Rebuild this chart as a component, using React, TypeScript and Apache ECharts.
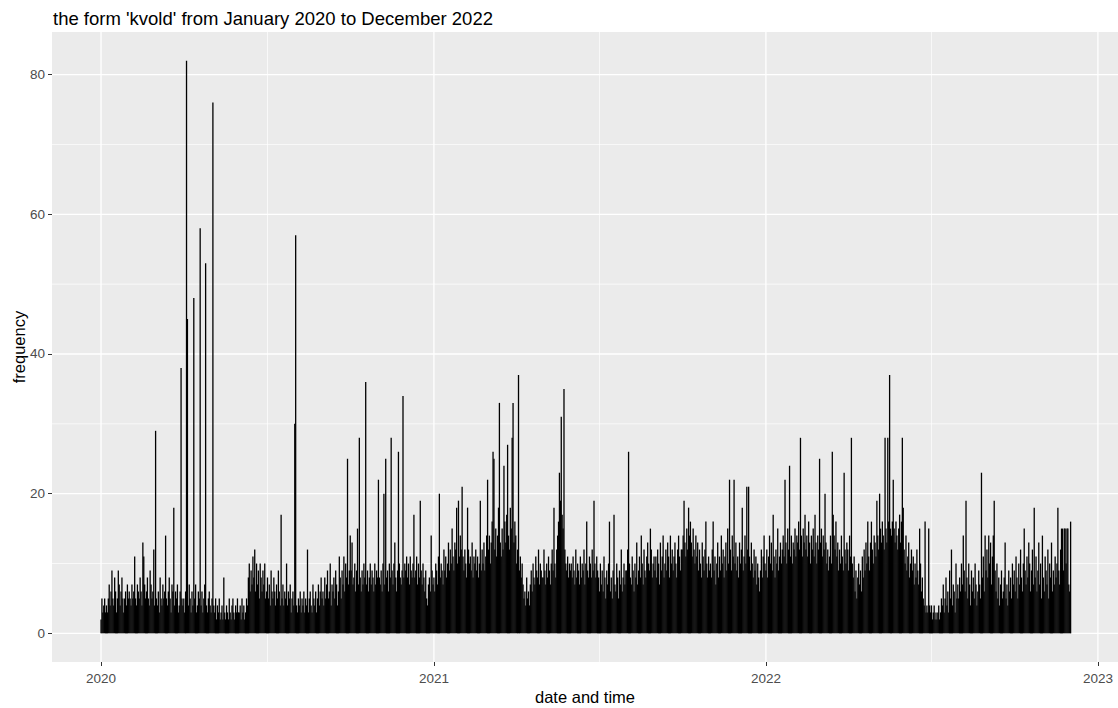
import React, { useEffect, useRef } from "react";
import * as echarts from "echarts";

// Daily counts (2020-01-01 .. 2022-12-02)
const counts2020 = [
  // Jan
  2,5,3,4,5,3,4,3,5,7,4,6,9,5,4,8,6,3,5,9,7,4,6,8,5,3,5,6,4,7,5,
  // Feb
  6,5,4,7,5,6,11,5,4,7,6,5,8,6,4,13,11,7,5,6,8,5,4,9,7,5,6,12,4,
  // Mar
  29,5,4,6,3,8,5,4,7,5,6,14,5,4,6,8,5,3,7,6,18,4,6,5,7,3,4,6,38,5,4,
  // Apr
  5,3,6,82,45,4,7,5,3,6,4,48,5,7,3,4,6,5,58,4,6,3,5,7,53,4,3,5,6,4,
  // May
  3,5,76,4,3,5,2,4,3,5,2,3,4,2,8,3,2,4,3,2,5,3,2,4,5,3,2,4,3,5,3,
  // Jun
  3,4,2,5,3,4,2,3,5,4,8,10,6,9,7,11,8,12,6,10,7,9,5,10,8,6,9,7,10,5,
  // Jul
  6,8,5,7,4,9,6,5,8,6,4,7,5,9,6,4,17,5,7,4,6,5,10,4,6,5,7,3,5,6,4,
  // Aug
  30,57,4,3,5,4,6,3,5,4,6,3,5,4,12,3,5,6,4,3,7,5,4,6,3,5,7,4,6,8,5,
  // Sep
  6,4,8,5,7,9,5,6,10,4,7,6,8,5,9,7,4,6,11,8,5,9,7,11,6,10,8,25,7,9,
  // Oct
  14,9,13,7,8,10,6,9,15,7,28,8,6,9,7,10,8,36,7,9,6,8,10,7,9,8,6,10,7,9,8,
  // Nov
  22,8,7,9,6,10,20,7,25,8,9,6,10,8,28,9,7,10,13,8,6,9,26,10,8,7,9,34,8,10,
  // Dec
  9,11,8,10,7,11,9,8,10,17,8,9,11,7,10,8,19,9,7,10,8,6,9,5,4,7,8,6,14,9,7,
];

const counts2021 = [
  // Jan
  8,6,10,9,7,11,20,8,10,9,7,12,9,11,8,10,13,9,12,10,15,11,9,13,12,18,10,19,11,14,12,
  // Feb
  21,11,9,12,10,8,18,12,10,11,9,13,8,11,10,12,9,11,8,10,19,9,12,10,13,9,11,14,
  // Mar
  22,12,14,10,13,16,26,25,12,15,11,14,18,33,13,11,15,12,24,16,13,17,27,14,12,18,15,28,33,13,16,
  // Apr
  14,10,12,37,9,11,8,10,7,5,6,4,8,5,6,4,7,9,6,10,8,7,11,9,8,12,7,10,9,8,
  // May
  8,12,9,7,10,8,11,9,7,10,12,9,18,10,8,12,14,16,23,19,31,17,15,35,12,10,9,11,8,10,9,
  // Jun
  10,8,11,9,7,12,8,10,9,7,11,8,10,9,12,7,10,16,9,8,11,10,8,12,9,19,10,8,11,9,
  // Jul
  8,6,10,7,9,6,11,8,5,9,7,10,16,6,8,5,9,17,7,6,10,8,5,9,7,12,6,8,10,7,9,
  // Aug
  9,12,26,10,8,7,11,9,6,10,8,13,7,9,11,8,14,10,7,12,9,8,11,13,10,9,15,12,8,10,11,
  // Sep
  9,11,8,12,10,7,13,9,11,14,8,10,12,9,13,11,8,14,10,12,9,11,13,10,8,12,14,11,9,12,
  // Oct
  12,14,19,13,11,15,12,18,14,16,13,11,15,12,10,14,11,13,9,12,10,8,13,11,9,12,16,10,8,11,9,
  // Nov
  10,8,12,16,9,11,7,10,13,8,11,9,14,10,12,8,11,13,9,15,10,22,12,9,14,11,22,10,13,9,
  // Dec
  11,8,13,10,12,18,9,11,14,10,21,12,21,11,9,13,10,8,12,9,11,7,10,8,6,9,12,8,11,14,10,
];

const counts2022 = [
  // Jan
  9,12,8,11,14,10,13,9,17,11,8,12,10,15,9,11,13,10,12,14,11,22,13,10,15,12,24,11,14,10,13,
  // Feb
  12,15,11,14,13,16,12,28,14,11,15,13,17,12,14,11,16,13,10,14,12,15,11,17,13,10,14,12,
  // Mar
  25,13,15,11,14,12,20,13,10,12,9,11,14,10,26,17,14,12,16,11,13,9,12,10,14,11,9,23,12,10,13,
  // Apr
  12,9,14,11,28,10,8,11,6,9,5,8,10,7,9,6,11,8,12,9,13,10,16,11,9,13,16,12,10,14,
  // May
  13,11,19,14,12,20,15,13,16,14,12,28,15,13,28,16,37,15,14,16,22,15,13,16,14,12,15,17,13,16,28,
  // Jun
  18,12,10,14,9,11,13,8,10,12,9,11,7,10,8,12,9,7,15,10,6,8,5,4,16,3,4,3,15,4,
  // Jul
  3,4,2,3,4,2,3,2,3,4,2,3,5,4,7,3,5,8,4,6,3,9,5,12,4,7,6,3,10,5,7,
  // Aug
  5,8,6,10,7,14,9,6,19,8,5,10,7,4,9,6,8,5,10,7,4,6,9,7,5,23,8,11,6,14,9,
  // Sep
  12,8,14,10,13,7,11,14,19,9,6,10,5,8,4,7,9,5,6,8,13,5,7,4,9,6,8,5,10,7,
  // Oct
  9,6,11,8,5,10,7,12,8,6,10,15,9,7,11,8,13,10,6,9,12,7,18,8,11,6,9,13,7,10,5,
  // Nov
  14,8,6,11,9,7,12,5,10,8,13,6,9,7,11,8,10,18,9,7,12,15,15,9,15,15,10,15,15,7,
  // Dec
  6,16,
];

const yMajorTicks = [0, 20, 40, 60, 80];
const yMinorTicks = [10, 30, 50, 70];
const xMajorYears = [2020, 2021, 2022, 2023];
const xMinorDates: [number, number, number][] = [
  [2020, 6, 2],
  [2021, 6, 2],
  [2022, 6, 2],
];

const FONT = "'Liberation Sans', Arial, Helvetica, sans-serif";

export default function App() {
  const ref = useRef<HTMLDivElement>(null);

  useEffect(() => {
    if (!ref.current) return;
    const chart = echarts.init(ref.current, null, { renderer: "svg" });

    const DAY = 86400000;
    const t0 = new Date(2020, 0, 1).getTime();
    const counts = [...counts2020, ...counts2021, ...counts2022];
    const barData = counts.map((v, i) => [new Date(2020, 0, 1 + i).getTime(), v]);

    const xMin = t0 - 53.9 * DAY;
    const xMax = t0 + 1118.1 * DAY;
    const yMin = -4.1;
    const yMax = 86.1;

    const majorX = xMajorYears.map((y) => new Date(y, 0, 1).getTime());
    const minorX = xMinorDates.map(([y, m, d]) => new Date(y, m, d).getTime());

    const gridLine = (data: number[][], width: number) => ({
      type: "line",
      data,
      symbol: "none",
      silent: true,
      z: 1,
      lineStyle: { color: "#ffffff", width },
      animation: false,
    });

    const gridSeries: any[] = [];
    yMinorTicks.forEach((v) => gridSeries.push(gridLine([[xMin, v], [xMax, v]], 0.7)));
    minorX.forEach((t) => gridSeries.push(gridLine([[t, yMin], [t, yMax]], 0.7)));
    yMajorTicks.forEach((v) => gridSeries.push(gridLine([[xMin, v], [xMax, v]], 1.3)));
    majorX.forEach((t) => gridSeries.push(gridLine([[t, yMin], [t, yMax]], 1.3)));

    chart.setOption({
      animation: false,
      backgroundColor: "#ffffff",
      textStyle: { fontFamily: FONT },
      title: {
        text: "the form 'kvold' from January 2020 to December 2022",
        left: 48,
        top: 4,
        textStyle: {
          fontFamily: FONT,
          fontSize: 18.5,
          fontWeight: "normal",
          color: "#000000",
        },
      },
      grid: {
        left: 52,
        right: 0,
        top: 32,
        bottom: 46,
        containLabel: false,
        outerBoundsMode: "none",
        show: true,
        backgroundColor: "#EBEBEB",
        borderWidth: 0,
      },
      xAxis: {
        type: "value",
        min: xMin,
        max: xMax,
        scale: true,
        name: "date and time",
        nameLocation: "middle",
        nameGap: 26,
        nameMoveOverlap: false,
        nameTextStyle: { fontFamily: FONT, fontSize: 16.5, color: "#000000" },
        axisLine: { show: false, onZero: false },
        splitLine: { show: false },
        axisTick: {
          show: true,
          length: 4,
          lineStyle: { color: "#333333", width: 1 },
          customValues: majorX,
        },
        axisLabel: {
          customValues: majorX,
          formatter: (v: number) => String(new Date(v).getFullYear()),
          color: "#4D4D4D",
          fontSize: 13.5,
          fontFamily: FONT,
          margin: 9,
        },
      },
      yAxis: {
        type: "value",
        min: yMin,
        max: yMax,
        name: "frequency",
        nameLocation: "middle",
        nameGap: 25,
        nameMoveOverlap: false,
        nameTextStyle: { fontFamily: FONT, fontSize: 16.5, color: "#000000" },
        axisLine: { show: false, onZero: false },
        splitLine: { show: false },
        axisTick: {
          show: true,
          length: 4,
          lineStyle: { color: "#333333", width: 1 },
          customValues: yMajorTicks,
        },
        axisLabel: {
          customValues: yMajorTicks,
          color: "#4D4D4D",
          fontSize: 13.5,
          fontFamily: FONT,
          margin: 7,
        },
      },
      series: [
        ...gridSeries,
        {
          type: "bar",
          data: barData,
          barWidth: 1.3,
          silent: true,
          z: 2,
          itemStyle: { color: "#000000" },
        },
      ],
    });

    return () => {
      chart.dispose();
    };
  }, []);

  return (
    <div
      ref={ref}
      style={{ position: "fixed", left: 0, top: 0, width: 1118, height: 708 }}
    />
  );
}
